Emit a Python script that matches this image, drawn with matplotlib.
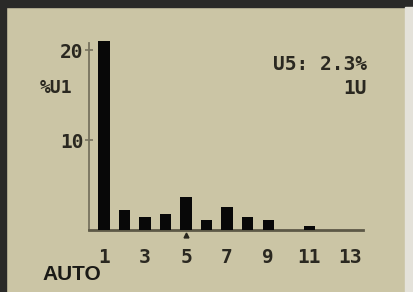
import matplotlib.pyplot as plt
from matplotlib.patches import Rectangle

# harmonic spectrum as shown on the meter screen (% of U1)
harmonics = [1, 2, 3, 4, 5, 6, 7, 8, 9, 10, 11, 12, 13]
values = [21.0, 2.2, 1.4, 1.75, 3.7, 1.1, 2.6, 1.45, 1.1, 0.0, 0.4, 0.0, 0.0]
xtick_labels = ["1", "3", "5", "7", "9", "11", "13"]
ytick_vals = [10, 20]

bg = "#cbc5a5"
ink = "#2a2820"

W, H = 414, 292
fig = plt.figure(figsize=(W / 100, H / 100), dpi=100, facecolor=bg)

# screen frame (dark edge at top and left, light strip on right)
fig.patches.append(Rectangle((0, 1 - 7 / H), 1, 7 / H, transform=fig.transFigure, color="#2a2a28", zorder=0))
fig.patches.append(Rectangle((0, 0), 6 / W, 1, transform=fig.transFigure, color="#2a2a28", zorder=0))
fig.patches.append(Rectangle((1 - 9 / W, 0), 9 / W, 1 - 7 / H, transform=fig.transFigure, color="#e4e2da", zorder=0))

# axes in pixel terms: left 89, right 363, baseline 230, top 43
ax = fig.add_axes([89 / W, (H - 230) / H, (363 - 89) / W, (230 - 43) / H])
ax.set_facecolor("none")
ax.set_xlim(0.27, 13.63)
ax.set_ylim(0, 187 / 9)

ax.bar(harmonics, values, width=0.54, color="#080808", clip_on=False, zorder=3)

for s in ["top", "right"]:
    ax.spines[s].set_visible(False)
ax.spines["left"].set_color("#77735f")
ax.spines["left"].set_linewidth(1.3)
ax.spines["bottom"].set_color("#5c5846")
ax.spines["bottom"].set_linewidth(2)

mono = dict(family="DejaVu Sans Mono", weight="bold", color=ink)
ax.set_xticks(harmonics[::2])
ax.set_xticklabels(xtick_labels, fontsize=14, **mono)
ax.tick_params(axis="x", length=0, pad=13)
ax.set_yticks(ytick_vals)
ax.set_yticklabels([str(v) for v in ytick_vals], fontsize=14, **mono)
ax.tick_params(axis="y", direction="inout", length=6, width=1.2, color="#77735f", pad=1)

# cursor under harmonic 5
ax.plot(5, -0.6, marker="^", markersize=3.5, color=ink, clip_on=False)

fig.text(72 / W, 1 - 88 / H, "%U1", ha="right", va="center", fontsize=13, **mono)
fig.text(367 / W, 1 - 64 / H, "U5: 2.3%", ha="right", va="center", fontsize=14, **mono)
fig.text(367 / W, 1 - 89 / H, "1U", ha="right", va="center", fontsize=14, **mono)
fig.text(42 / W, 1 - 274 / H, "AUTO", ha="left", va="center", family="Liberation Sans", weight="bold", fontsize=15, color="#1a1a16")

fig.savefig("out.png", dpi=100, facecolor=bg)
